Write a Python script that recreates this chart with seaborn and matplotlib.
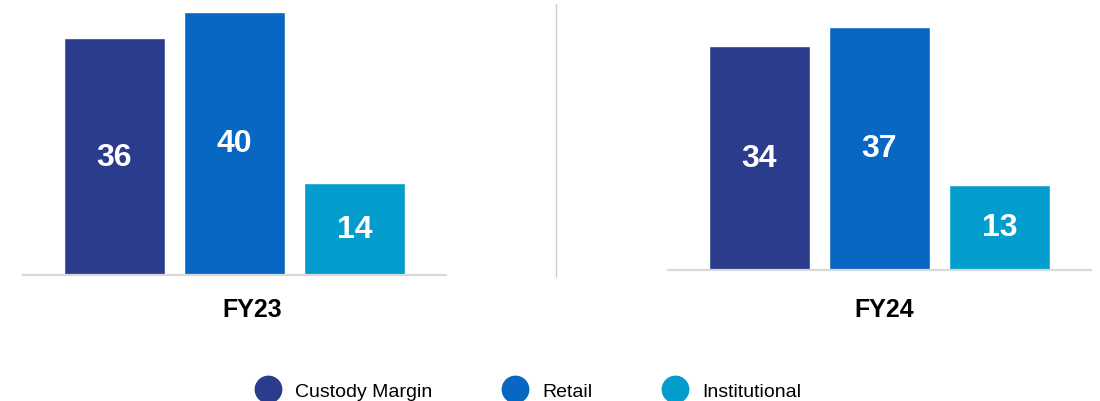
import matplotlib
matplotlib.use("Agg")
import matplotlib.pyplot as plt
import pandas as pd
import seaborn as sns
from matplotlib.lines import Line2D

CATEGORIES = ["Custody Margin", "Retail", "Institutional"]
PERIODS = ["FY23", "FY24"]
FY23_VALUES = [36, 40, 14]
FY24_VALUES = [34, 37, 13]
COLORS = ["#2a3c8b", "#0767c2", "#029dcc"]

W, H = 1100, 402
PX_PER_UNIT = 6.575


def make_frame(values: list[float]) -> pd.DataFrame:
    return pd.DataFrame({"Category": CATEGORIES, "Value": values})


def draw_panel(fig, left_px: float, base_px: float, values: list[float]):
    """One period: three bars sitting on a light grey baseline."""
    width_px = 422.4
    ax = fig.add_axes([left_px / W, (H - base_px) / H, width_px / W, base_px / H])
    palette = dict(zip(CATEGORIES, COLORS))
    sns.barplot(
        data=make_frame(values),
        x="Category",
        y="Value",
        hue="Category",
        palette=palette,
        width=0.842,
        saturation=1,
        legend=False,
        ax=ax,
    )
    ax.set_xlim(-0.76, 2.76)
    ax.set_ylim(0, base_px / PX_PER_UNIT)
    for c in ax.containers:
        ax.bar_label(c, label_type="center", color="white", fontsize=23,
                     fontweight="bold")
    for side in ["top", "left", "right"]:
        ax.spines[side].set_visible(False)
    ax.spines["bottom"].set_color("#d9d9d9")
    ax.spines["bottom"].set_linewidth(1.6)
    ax.set_xticks([])
    ax.set_yticks([])
    ax.set_xlabel("")
    ax.set_ylabel("")
    ax.patch.set_alpha(0)
    return ax


def main():
    sns.set_style("white")
    plt.rcParams["font.family"] = ["Liberation Sans", "DejaVu Sans"]

    fig = plt.figure(figsize=(W / 100, H / 100), dpi=100)

    draw_panel(fig, 23.3, 276, FY23_VALUES)
    draw_panel(fig, 668.3, 271, FY24_VALUES)

    # period names under each group
    fig.text(252 / W, 1 - 310 / H, PERIODS[0], ha="center", va="center",
             fontsize=18, fontweight="bold", color="black")
    fig.text(884.5 / W, 1 - 310 / H, PERIODS[1], ha="center", va="center",
             fontsize=18, fontweight="bold", color="black")

    # thin divider between the two panels
    fig.add_artist(Line2D([556 / W, 556 / W], [1 - 5 / H, 1 - 278 / H],
                          color="#d0d0d0", linewidth=1))

    handles = [
        Line2D([], [], marker="o", linestyle="", markersize=19,
               markerfacecolor=c, markeredgecolor=c)
        for c in COLORS
    ]
    fig.legend(
        handles,
        CATEGORIES,
        loc="center",
        bbox_to_anchor=(525 / W, 1 - 392 / H),
        ncol=3,
        frameon=False,
        fontsize=14,
        labelcolor="black",
        handletextpad=0.4,
        columnspacing=3.25,
    )

    fig.savefig("out.png", dpi=100)


if __name__ == "__main__":
    main()
